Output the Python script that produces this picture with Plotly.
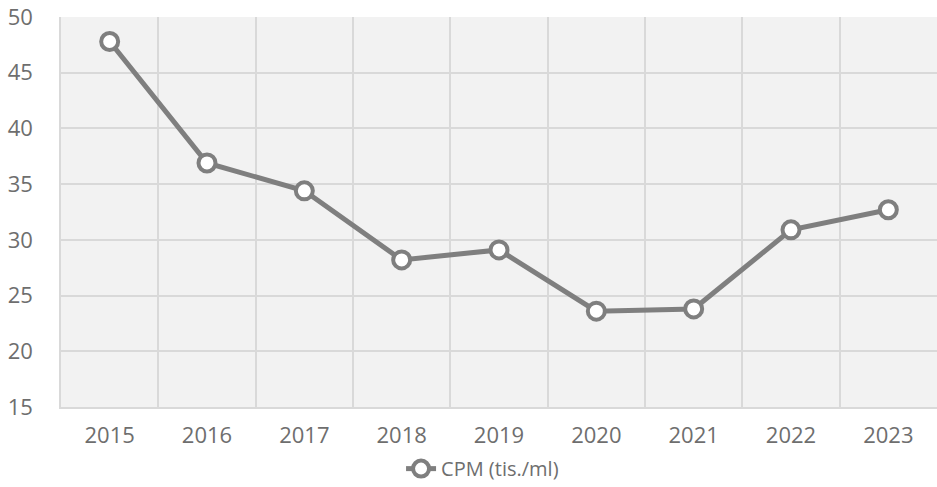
import plotly.graph_objects as go

# data
YEARS = ["2015", "2016", "2017", "2018", "2019", "2020", "2021", "2022", "2023"]
CPM = [47.8, 36.9, 34.4, 28.2, 29.1, 23.6, 23.8, 30.9, 32.7]
SERIES_NAME = "CPM (tis./ml)"

LINE_GRAY = "#7F7F7F"
GRID_GRAY = "#D9D9D9"
TEXT_GRAY = "#6E6E6E"
PLOT_BG = "#F2F2F2"

fig = go.Figure()

fig.add_trace(go.Scatter(
    x=YEARS, y=CPM,
    mode="lines+markers",
    name=SERIES_NAME,
    line=dict(color=LINE_GRAY, width=5),
    marker=dict(size=17, color="#FFFFFF", line=dict(color=LINE_GRAY, width=4)),
    showlegend=True,
))

fig.update_layout(
    width=937, height=487,
    paper_bgcolor="#FFFFFF",
    plot_bgcolor=PLOT_BG,
    font=dict(family="Open Sans", size=22, color=TEXT_GRAY),
    margin=dict(l=61, r=0, t=17, b=80, autoexpand=False),
    showlegend=True,
    legend=dict(
        orientation="h",
        xref="container", x=0.515, xanchor="center",
        y=-0.158, yanchor="middle",
        font=dict(size=20, color=TEXT_GRAY),
        bgcolor="rgba(0,0,0,0)",
    ),
    xaxis=dict(
        type="category",
        range=[-0.5, 8.5],
        tickson="boundaries",
        showgrid=True, gridcolor=GRID_GRAY, gridwidth=1.5,
        showline=True, linecolor=GRID_GRAY, linewidth=1.5,
        ticks="", ticklabelstandoff=8,
        tickfont=dict(size=22),
        zeroline=False, automargin=False,
    ),
    yaxis=dict(
        range=[15, 50], dtick=5, tick0=15,
        showgrid=True, gridcolor=GRID_GRAY, gridwidth=1.5,
        showline=True, linecolor=GRID_GRAY, linewidth=1.5,
        ticks="", ticklabelstandoff=22,
        ticklabeloverflow="allow",
        tickfont=dict(size=22),
        zeroline=False, automargin=False,
    ),
)

# drop the default 8px body margin so the figure fills the window
fig.write_html(
    "out.html",
    config={"displayModeBar": False},
    post_script="document.body.style.margin='0';",
)
